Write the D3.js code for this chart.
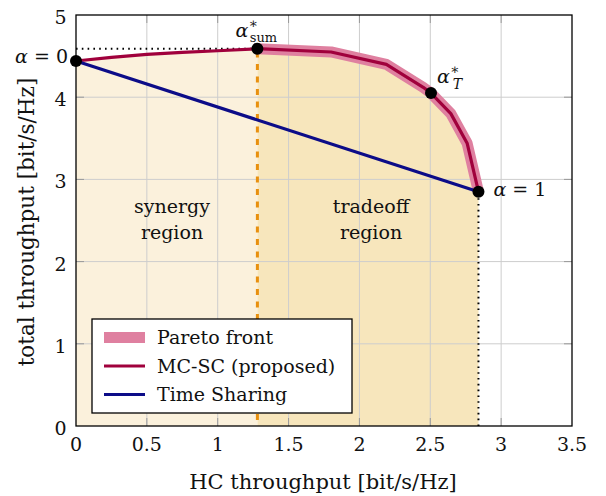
<!DOCTYPE html>
<html>
<head>
<meta charset="utf-8">
<script src="https://cdn.jsdelivr.net/npm/d3@7"></script>
<style>
  html, body { margin: 0; padding: 0; background: #fff; }
  svg text { font-family: "DejaVu Serif", "Liberation Serif", serif; fill: #111; }
</style>
</head>
<body>
<svg id="chart" width="606" height="496"></svg>
<script>
// Axis ticks
const xTicks = [0, 0.5, 1, 1.5, 2, 2.5, 3, 3.5];
const yTicks = [0, 1, 2, 3, 4, 5];

// MC-SC achievable (HC throughput, total throughput) as alpha goes 0 -> 1
const mcscX = [0, 0.25, 0.5, 0.75, 1.0, 1.28, 1.80, 2.19, 2.45, 2.505, 2.645, 2.76, 2.84];
const mcscY = [4.44, 4.485, 4.52, 4.545, 4.565, 4.59, 4.55, 4.40, 4.12, 4.05, 3.80, 3.44, 2.85];

// Pareto front: the part of the MC-SC curve from alpha*_sum to alpha = 1
const paretoStart = 5;

// Time sharing between the two end points
const tsX = [0, 2.84];
const tsY = [4.44, 2.85];

// Marked operating points
const alphaSum = [1.28, 4.59];
const alphaT = [2.505, 4.05];
const alpha0 = [0, 4.44];
const alpha1 = [2.84, 2.85];

const legendNames = ["Pareto front", "MC-SC (proposed)", "Time Sharing"];

const svg = d3.select("#chart");
const mLeft = 76, mRight = 572, mTop = 15, mBottom = 426;

const x = d3.scaleLinear().domain([0, 3.5]).range([mLeft, mRight]);
const y = d3.scaleLinear().domain([0, 5]).range([mBottom, mTop]);

const mcsc = mcscX.map((v, i) => [v, mcscY[i]]);
const synergyPts = mcsc.slice(0, paretoStart + 1);
const tradeoffPts = mcsc.slice(paretoStart);

const area = d3.area().x(d => x(d[0])).y0(y(0)).y1(d => y(d[1]));
const line = d3.line().x(d => x(d[0])).y(d => y(d[1]));

// Region fills
svg.append("path").attr("d", area(synergyPts)).attr("fill", "#fbf1dc");
svg.append("path").attr("d", area(tradeoffPts)).attr("fill", "#f7e6bc");

// Grid
const grid = svg.append("g").attr("stroke", "#cdcdcd").attr("stroke-width", 1);
xTicks.slice(1, -1).forEach(t => grid.append("line")
  .attr("x1", x(t)).attr("x2", x(t)).attr("y1", y(0)).attr("y2", y(5)));
yTicks.slice(1, -1).forEach(t => grid.append("line")
  .attr("x1", x(0)).attr("x2", x(3.5)).attr("y1", y(t)).attr("y2", y(t)));

// Inner ticks on all four sides
const tickLen = 8;
const ticks = svg.append("g").attr("stroke", "#999").attr("stroke-width", 1);
xTicks.slice(1, -1).forEach(t => {
  ticks.append("line").attr("x1", x(t)).attr("x2", x(t)).attr("y1", y(0)).attr("y2", y(0) - tickLen);
  ticks.append("line").attr("x1", x(t)).attr("x2", x(t)).attr("y1", y(5)).attr("y2", y(5) + tickLen);
});
yTicks.slice(1, -1).forEach(t => {
  ticks.append("line").attr("x1", x(0)).attr("x2", x(0) + tickLen).attr("y1", y(t)).attr("y2", y(t));
  ticks.append("line").attr("x1", x(3.5)).attr("x2", x(3.5) - tickLen).attr("y1", y(t)).attr("y2", y(t));
});

// Guide lines
svg.append("line")
  .attr("x1", x(0)).attr("x2", x(alphaSum[0])).attr("y1", y(alphaSum[1])).attr("y2", y(alphaSum[1]))
  .attr("stroke", "#000").attr("stroke-width", 2).attr("stroke-dasharray", "1.6,4.2");
svg.append("line")
  .attr("x1", x(alpha1[0])).attr("x2", x(alpha1[0])).attr("y1", y(0)).attr("y2", y(alpha1[1]))
  .attr("stroke", "#000").attr("stroke-width", 2).attr("stroke-dasharray", "1.6,4.2");
svg.append("line")
  .attr("x1", x(alphaSum[0])).attr("x2", x(alphaSum[0])).attr("y1", y(0) - 6).attr("y2", y(alphaSum[1]))
  .attr("stroke", "#e8900e").attr("stroke-width", 3).attr("stroke-dasharray", "6,6.5");

// Curves
svg.append("path").attr("d", line(tradeoffPts)).attr("fill", "none")
  .attr("stroke", "#df80a0").attr("stroke-width", 11).attr("stroke-linejoin", "round");
svg.append("path").attr("d", line(mcsc)).attr("fill", "none")
  .attr("stroke", "#a0003c").attr("stroke-width", 3.2).attr("stroke-linejoin", "round");
svg.append("path").attr("d", line(tsX.map((v, i) => [v, tsY[i]]))).attr("fill", "none")
  .attr("stroke", "#0c0c88").attr("stroke-width", 3.2);

// Frame
svg.append("rect").attr("x", mLeft).attr("y", mTop).attr("width", mRight - mLeft).attr("height", mBottom - mTop)
  .attr("fill", "none").attr("stroke", "#000").attr("stroke-width", 1.3);

// Markers
[alpha0, alphaSum, alphaT, alpha1].forEach(p => svg.append("circle")
  .attr("cx", x(p[0])).attr("cy", y(p[1])).attr("r", 6).attr("fill", "#000"));

// Tick labels
const tickFs = 19, labelFs = 19, titleFs = 21;
xTicks.forEach(t => svg.append("text").attr("x", x(t)).attr("y", y(0) + 25)
  .attr("text-anchor", "middle").attr("font-size", tickFs).text(String(t)));
yTicks.forEach(t => svg.append("text").attr("x", x(0) - 9.5).attr("y", y(t) + 9)
  .attr("text-anchor", "end").attr("font-size", tickFs).text(String(t)));

// Axis titles
svg.append("text").attr("x", 323).attr("y", 489).attr("text-anchor", "middle")
  .attr("font-size", titleFs).text("HC throughput [bit/s/Hz]");
svg.append("text").attr("transform", `translate(33.5,222) rotate(-90)`)
  .attr("text-anchor", "middle").attr("font-size", titleFs + 0.5).text("total throughput [bit/s/Hz]");

// Point annotations
function alphaEq(xp, yp, anchor, val) {
  const t = svg.append("text").attr("x", xp).attr("y", yp).attr("text-anchor", anchor).attr("font-size", labelFs);
  t.append("tspan").attr("font-style", "italic").text("α");
  t.append("tspan").text(" = " + val);
}
alphaEq(x(alpha0[0]) - 8, y(alpha0[1]) + 2, "end", "0");
alphaEq(x(alpha1[0]) + 15, y(alpha1[1]) + 4, "start", "1");

// alpha with a starred superscript and a subscript stacked under it
function alphaStar(xp, yp, sub, subItalic, subDx, subDy) {
  const t = svg.append("text").attr("x", xp).attr("y", yp).attr("font-size", labelFs);
  t.append("tspan").attr("font-style", "italic").text("α");
  t.append("tspan").attr("font-size", 14).attr("dx", 0.5).attr("dy", -9).text("∗");
  t.append("tspan").attr("font-size", subItalic ? 14 : 13)
    .attr("font-style", subItalic ? "italic" : "normal")
    .attr("dx", subDx).attr("dy", subDy).text(sub);
}
alphaStar(x(alphaSum[0]) - 22, y(alphaSum[1]) - 12, "sum", false, -8.5, 14);
alphaStar(x(alphaT[0]) + 6, y(alphaT[1]) - 10, "T", true, -7, 15);

// Region labels
[["synergy", "region", 172], ["tradeoff", "region", 371]].forEach(([a, b, cx]) => {
  svg.append("text").attr("x", cx).attr("y", 213).attr("text-anchor", "middle").attr("font-size", labelFs).text(a);
  svg.append("text").attr("x", cx).attr("y", 239).attr("text-anchor", "middle").attr("font-size", labelFs).text(b);
});

// Legend
const lg = svg.append("g");
lg.append("rect").attr("x", 92).attr("y", 319).attr("width", 260).attr("height", 94)
  .attr("fill", "#fff").attr("stroke", "#000").attr("stroke-width", 1.3);
legendNames.forEach((n, i) => {
  const cy = 337.5 + i * 28.5;
  if (i === 0) {
    lg.append("rect").attr("x", 104).attr("y", cy - 5.5).attr("width", 41).attr("height", 11).attr("fill", "#df80a0");
  } else {
    lg.append("line").attr("x1", 104).attr("x2", 145).attr("y1", cy).attr("y2", cy)
      .attr("stroke", i === 1 ? "#a0003c" : "#0c0c88").attr("stroke-width", 3.2);
  }
  lg.append("text").attr("x", 157).attr("y", cy + 6.8).attr("font-size", labelFs).text(n);
});
</script>
</body>
</html>
